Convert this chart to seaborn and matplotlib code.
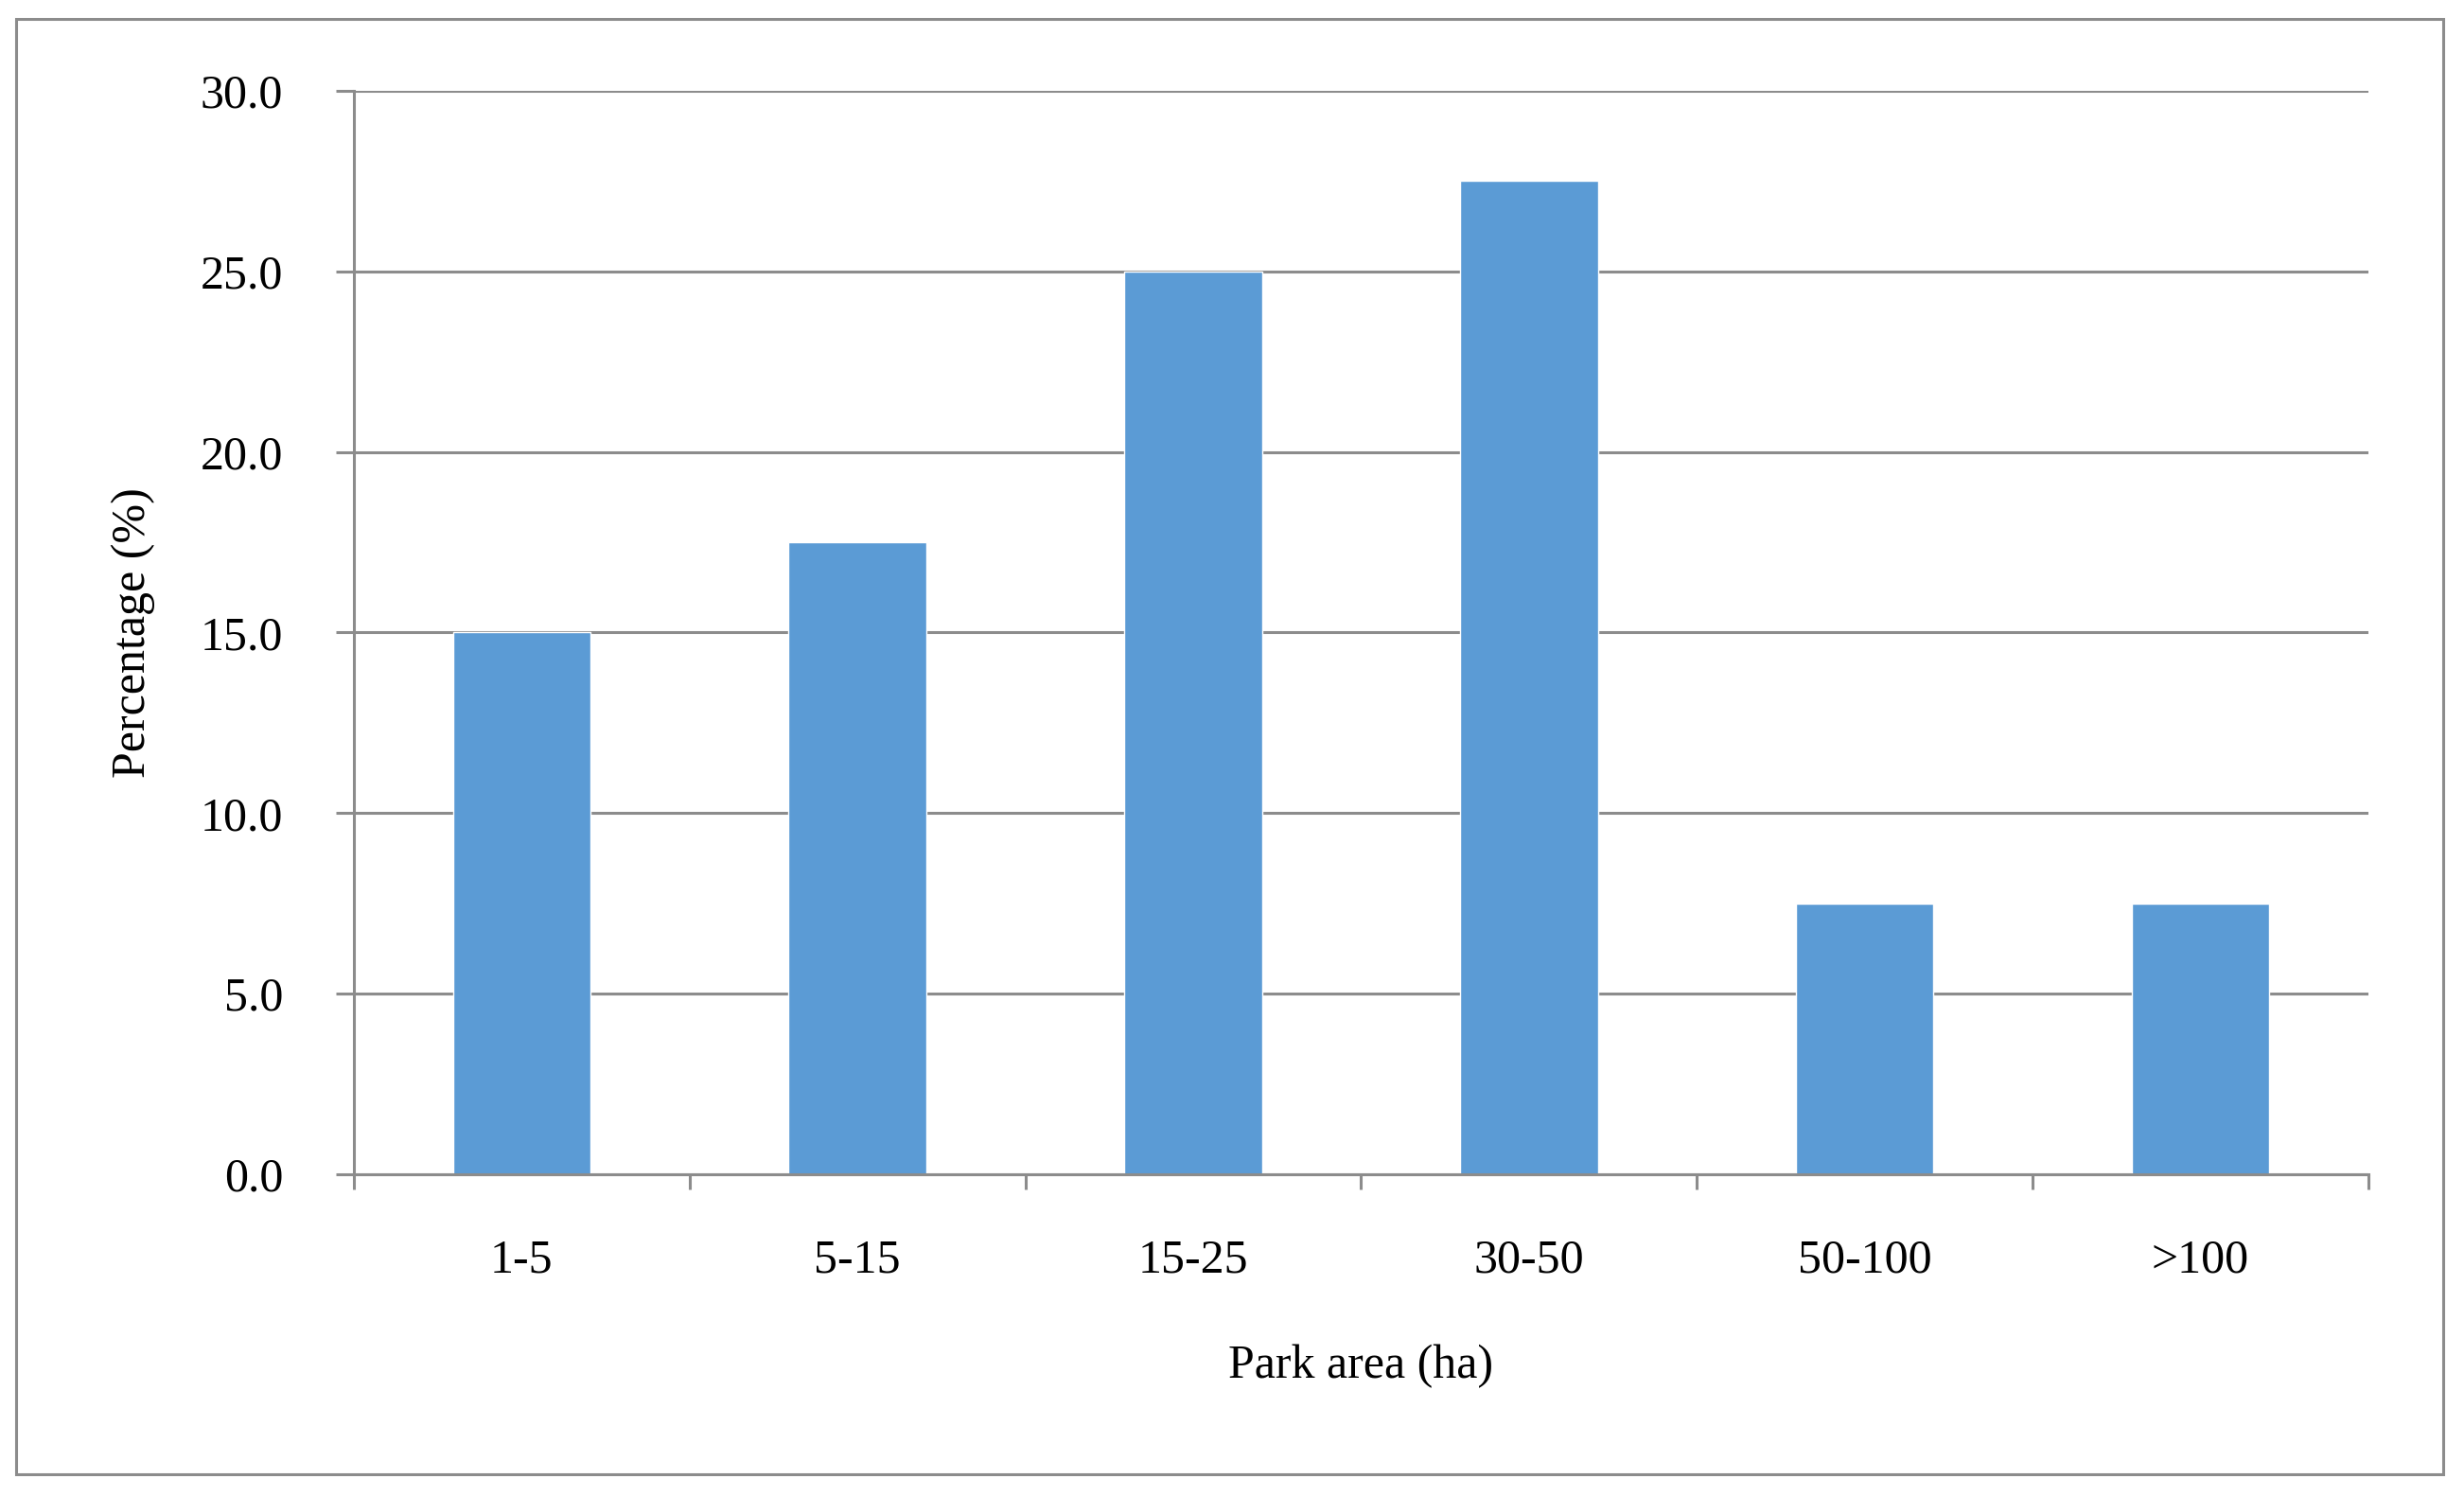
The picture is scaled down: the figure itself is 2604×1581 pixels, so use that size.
import matplotlib
matplotlib.use("Agg")
import matplotlib.pyplot as plt
import seaborn as sns
import pandas as pd
import numpy as np
from matplotlib.patches import Rectangle
from matplotlib.ticker import FixedLocator, FormatStrFormatter

categories = ["1-5", "5-15", "15-25", "30-50", "50-100", ">100"]
values = [15.0, 17.5, 25.0, 27.5, 7.5, 7.5]
yticks = [0, 5, 10, 15, 20, 25, 30]

sns.set_theme(style="white")
plt.rcParams['font.family'] = ['Liberation Serif', 'DejaVu Serif']

GRAY = "#8c8c8c"
BAR = "#5b9bd5"
FS = 36
LW = 2.2

fig = plt.figure(figsize=(26.04, 15.81), dpi=100)
fig.patch.set_facecolor("white")
ax = fig.add_axes([0.1436, 0.2151, 0.9612 - 0.1436, 0.9393 - 0.2151])

df = pd.DataFrame({"cat": categories, "val": values})
sns.barplot(data=df, x="cat", y="val", color=BAR, width=0.41, saturation=1,
            ax=ax, zorder=3)

ax.set_xlim(-0.5, len(categories) - 0.5)
ax.set_ylim(0, 30)
ax.set_yticks(yticks)
ax.yaxis.set_major_formatter(FormatStrFormatter("%.1f"))
ax.grid(axis="y", color=GRAY, linewidth=LW, zorder=0)
ax.grid(axis="x", visible=False)
ax.set_axisbelow(True)

for s in ["top", "right"]:
    ax.spines[s].set_visible(False)
for s in ["left", "bottom"]:
    ax.spines[s].set_color(GRAY)
    ax.spines[s].set_linewidth(LW)
    ax.spines[s].set_zorder(4)

ax.tick_params(axis="y", which="major", direction="out", length=13.7, width=LW,
               color=GRAY, labelsize=FS, labelcolor="black", pad=40, left=True)
ax.xaxis.set_minor_locator(FixedLocator(np.arange(-0.5, len(categories), 1.0)))
ax.tick_params(axis="x", which="minor", direction="out", length=11.5, width=LW,
               color=GRAY, bottom=True)
ax.tick_params(axis="x", which="major", length=0, labelsize=FS,
               labelcolor="black", pad=49)

ax.set_xlabel("Park area (ha)", fontsize=FS, color="black")
ax.set_ylabel("Percentage (%)", fontsize=FS, color="black")
ax.xaxis.label.set_va("center")
ax.yaxis.label.set_va("center")
ax.xaxis.set_label_coords(0.5, -0.177)
ax.yaxis.set_label_coords(-0.1094, 0.5)

fig.patches.append(Rectangle((17 / 2604, 1 - 1558 / 1581), 2565 / 2604, 1538 / 1581,
                             transform=fig.transFigure, fill=False,
                             edgecolor=GRAY, linewidth=LW, zorder=10))

fig.savefig("out.png", dpi=100, facecolor="white")
